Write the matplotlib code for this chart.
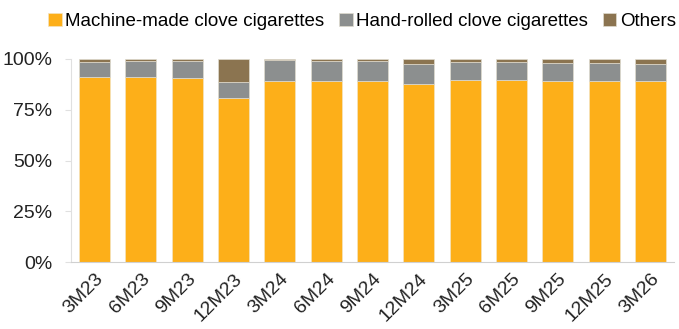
import matplotlib
matplotlib.use('Agg')
import matplotlib.pyplot as plt
import numpy as np

# Данные (доли, %)
periods = ['3M23', '6M23', '9M23', '12M23', '3M24', '6M24', '9M24',
           '12M24', '3M25', '6M25', '9M25', '12M25', '3M26']
machine_made = [91.1, 91.1, 90.4, 80.7, 89.1, 89.1, 89.2, 87.9, 89.6, 89.7, 89.2, 89.1, 89.1]
hand_rolled = [7.5, 8.0, 8.7, 7.9, 10.2, 9.9, 9.6, 9.6, 9.0, 8.8, 8.9, 9.0, 8.4]
others = [1.4, 0.9, 0.9, 11.4, 0.7, 1.0, 1.2, 2.5, 1.4, 1.5, 1.9, 1.9, 2.5]

c_machine = '#FDAF19'
c_hand = '#8C8F8F'
c_other = '#8B7450'

plt.rcParams['font.family'] = ['Liberation Sans', 'DejaVu Sans']

fig = plt.figure(figsize=(6.79, 3.29), dpi=100)
ax = fig.add_axes([0.1053, 0.2036, 0.8867, 0.6171])

x = np.arange(len(periods))
w = 0.67
machine = np.array(machine_made)
hand = np.array(hand_rolled)
oth = np.array(others)

ax.bar(x, machine, w, color=c_machine, edgecolor='#F3E3C0', linewidth=0.5,
       label='Machine-made clove cigarettes')
ax.bar(x, hand, w, bottom=machine, color=c_hand, edgecolor='#E0DCD0', linewidth=0.5,
       label='Hand-rolled clove cigarettes')
ax.bar(x, oth, w, bottom=machine + hand, color=c_other, edgecolor='#E0DCD0', linewidth=0.5,
       label='Others')

ax.set_xlim(-0.5, len(periods) - 0.5)
ax.set_ylim(0, 100)
ax.set_yticks([0, 25, 50, 75, 100])
ax.set_yticklabels(['0%', '25%', '50%', '75%', '100%'], fontsize=14, color='#222222')
ax.set_xticks(x)
ax.set_xticklabels(periods, rotation=45, ha='right', rotation_mode='anchor',
                   fontsize=14, color='#222222')

for s in ['top', 'right']:
    ax.spines[s].set_visible(False)
ax.spines['left'].set_color('#E0E0E0')
ax.spines['bottom'].set_color('#D0D0D0')
ax.tick_params(axis='y', length=4, color='#E0E0E0', pad=10)
ax.tick_params(axis='x', length=0, pad=6)

fig.legend(loc='upper left', bbox_to_anchor=(0.052, 1.0), ncol=3, frameon=False,
           fontsize=13.5, handlelength=0.7, handleheight=0.7, handletextpad=0.2,
           columnspacing=0.8, borderaxespad=0.3)

plt.savefig('out.png', dpi=100)
